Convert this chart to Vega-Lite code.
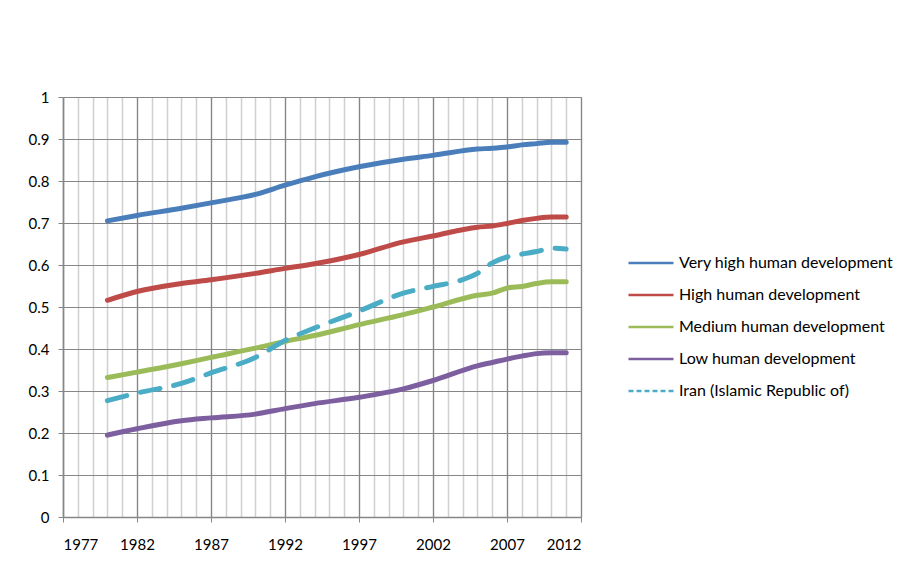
{
  "$schema": "https://vega.github.io/schema/vega-lite/v6.json",
  "width": 518,
  "height": 420,
  "autosize": {"type": "none"},
  "padding": {"left": 63, "top": 97, "right": 320, "bottom": 50},
  "background": "white",
  "config": {
    "view": {"stroke": null},
    "font": "Lato",
    "axis": {"labelFont": "Lato", "labelFontSize": 15, "labelColor": "#000000", "domainColor": "#868686", "tickColor": "#868686", "gridColor": "#868686", "title": null},
    "legend": {"labelFont": "Lato", "labelFontSize": 16, "labelColor": "#000000"}
  },
  "resolve": {"axis": {"x": "independent", "y": "shared"}},
  "data": {"values": [
    {"year": 1980, "series": "Very high human development", "value": 0.705},
    {"year": 1982, "series": "Very high human development", "value": 0.718},
    {"year": 1985, "series": "Very high human development", "value": 0.735},
    {"year": 1987, "series": "Very high human development", "value": 0.748},
    {"year": 1990, "series": "Very high human development", "value": 0.768},
    {"year": 1992, "series": "Very high human development", "value": 0.790},
    {"year": 1994, "series": "Very high human development", "value": 0.810},
    {"year": 1997, "series": "Very high human development", "value": 0.834},
    {"year": 2000, "series": "Very high human development", "value": 0.852},
    {"year": 2002, "series": "Very high human development", "value": 0.861},
    {"year": 2005, "series": "Very high human development", "value": 0.876},
    {"year": 2006, "series": "Very high human development", "value": 0.878},
    {"year": 2007, "series": "Very high human development", "value": 0.881},
    {"year": 2008, "series": "Very high human development", "value": 0.886},
    {"year": 2009, "series": "Very high human development", "value": 0.889},
    {"year": 2010, "series": "Very high human development", "value": 0.892},
    {"year": 2011, "series": "Very high human development", "value": 0.892},
    {"year": 1980, "series": "High human development", "value": 0.516},
    {"year": 1982, "series": "High human development", "value": 0.537},
    {"year": 1985, "series": "High human development", "value": 0.556},
    {"year": 1987, "series": "High human development", "value": 0.565},
    {"year": 1990, "series": "High human development", "value": 0.580},
    {"year": 1992, "series": "High human development", "value": 0.592},
    {"year": 1994, "series": "High human development", "value": 0.603},
    {"year": 1997, "series": "High human development", "value": 0.625},
    {"year": 2000, "series": "High human development", "value": 0.655},
    {"year": 2002, "series": "High human development", "value": 0.669},
    {"year": 2005, "series": "High human development", "value": 0.690},
    {"year": 2006, "series": "High human development", "value": 0.693},
    {"year": 2007, "series": "High human development", "value": 0.699},
    {"year": 2008, "series": "High human development", "value": 0.706},
    {"year": 2009, "series": "High human development", "value": 0.711},
    {"year": 2010, "series": "High human development", "value": 0.714},
    {"year": 2011, "series": "High human development", "value": 0.714},
    {"year": 1980, "series": "Medium human development", "value": 0.332},
    {"year": 1982, "series": "Medium human development", "value": 0.345},
    {"year": 1985, "series": "Medium human development", "value": 0.365},
    {"year": 1987, "series": "Medium human development", "value": 0.380},
    {"year": 1990, "series": "Medium human development", "value": 0.402},
    {"year": 1992, "series": "Medium human development", "value": 0.418},
    {"year": 1994, "series": "Medium human development", "value": 0.432},
    {"year": 1997, "series": "Medium human development", "value": 0.458},
    {"year": 2000, "series": "Medium human development", "value": 0.482},
    {"year": 2002, "series": "Medium human development", "value": 0.500},
    {"year": 2005, "series": "Medium human development", "value": 0.528},
    {"year": 2006, "series": "Medium human development", "value": 0.533},
    {"year": 2007, "series": "Medium human development", "value": 0.545},
    {"year": 2008, "series": "Medium human development", "value": 0.549},
    {"year": 2009, "series": "Medium human development", "value": 0.556},
    {"year": 2010, "series": "Medium human development", "value": 0.560},
    {"year": 2011, "series": "Medium human development", "value": 0.560},
    {"year": 1980, "series": "Low human development", "value": 0.195},
    {"year": 1982, "series": "Low human development", "value": 0.210},
    {"year": 1985, "series": "Low human development", "value": 0.229},
    {"year": 1987, "series": "Low human development", "value": 0.236},
    {"year": 1990, "series": "Low human development", "value": 0.245},
    {"year": 1992, "series": "Low human development", "value": 0.258},
    {"year": 1994, "series": "Low human development", "value": 0.270},
    {"year": 1997, "series": "Low human development", "value": 0.285},
    {"year": 2000, "series": "Low human development", "value": 0.305},
    {"year": 2002, "series": "Low human development", "value": 0.325},
    {"year": 2005, "series": "Low human development", "value": 0.360},
    {"year": 2006, "series": "Low human development", "value": 0.368},
    {"year": 2007, "series": "Low human development", "value": 0.376},
    {"year": 2008, "series": "Low human development", "value": 0.383},
    {"year": 2009, "series": "Low human development", "value": 0.389},
    {"year": 2010, "series": "Low human development", "value": 0.391},
    {"year": 2011, "series": "Low human development", "value": 0.391},
    {"year": 1980, "series": "Iran (Islamic Republic of)", "value": 0.277},
    {"year": 1982, "series": "Iran (Islamic Republic of)", "value": 0.295},
    {"year": 1985, "series": "Iran (Islamic Republic of)", "value": 0.318},
    {"year": 1987, "series": "Iran (Islamic Republic of)", "value": 0.343},
    {"year": 1990, "series": "Iran (Islamic Republic of)", "value": 0.380},
    {"year": 1992, "series": "Iran (Islamic Republic of)", "value": 0.420},
    {"year": 1994, "series": "Iran (Islamic Republic of)", "value": 0.450},
    {"year": 1997, "series": "Iran (Islamic Republic of)", "value": 0.490},
    {"year": 2000, "series": "Iran (Islamic Republic of)", "value": 0.533},
    {"year": 2002, "series": "Iran (Islamic Republic of)", "value": 0.549},
    {"year": 2004, "series": "Iran (Islamic Republic of)", "value": 0.565},
    {"year": 2005, "series": "Iran (Islamic Republic of)", "value": 0.580},
    {"year": 2006, "series": "Iran (Islamic Republic of)", "value": 0.605},
    {"year": 2007, "series": "Iran (Islamic Republic of)", "value": 0.619},
    {"year": 2008, "series": "Iran (Islamic Republic of)", "value": 0.626},
    {"year": 2009, "series": "Iran (Islamic Republic of)", "value": 0.632},
    {"year": 2010, "series": "Iran (Islamic Republic of)", "value": 0.640},
    {"year": 2011, "series": "Iran (Islamic Republic of)", "value": 0.638}
  ]},
  "layer": [
    {
      "mark": {"type": "line", "strokeOpacity": 0},
      "encoding": {
        "x": {"field": "year", "type": "quantitative", "scale": {"domain": [1977, 2012], "nice": false, "zero": false},
          "axis": {"orient": "bottom", "values": [1977,1978,1979,1980,1981,1982,1983,1984,1985,1986,1987,1988,1989,1990,1991,1992,1993,1994,1995,1996,1997,1998,1999,2000,2001,2002,2003,2004,2005,2006,2007,2008,2009,2010,2011,2012], "grid": true, "gridColor": "#d0d0d0", "gridWidth": 1.5, "labels": false, "ticks": false, "domain": false}},
        "y": {"field": "value", "type": "quantitative", "scale": {"domain": [0, 1], "nice": false},
          "axis": {"values": [0,0.1,0.2,0.3,0.4,0.5,0.6,0.7,0.8,0.9,1], "format": ".1~f", "grid": true, "gridColor": "#868686", "gridWidth": 1.2, "tickSize": 5, "labelPadding": 9, "domainWidth": 1.5}},
        "detail": {"field": "series"}
      }
    },
    {
      "transform": [{"filter": "datum.series !== 'Iran (Islamic Republic of)'"}],
      "mark": {"type": "line", "strokeWidth": 5, "strokeCap": "round", "interpolate": "monotone"},
      "encoding": {
        "x": {"field": "year", "type": "quantitative",
          "axis": {"orient": "bottom", "values": [1977,1982,1987,1992,1997,2002,2007,2012], "format": "d", "grid": true, "gridColor": "#868686", "gridWidth": 1.2, "tickSize": 5, "labelPadding": 15, "domainWidth": 1.5}},
        "y": {"field": "value", "type": "quantitative"},
        "color": {"field": "series", "type": "nominal",
          "scale": {"domain": ["Very high human development", "High human development", "Medium human development", "Low human development", "Iran (Islamic Republic of)"],
                    "range": ["#4A7EBB", "#BE4B48", "#9BBB59", "#7D5FA0", "#4BACC6"]},
          "legend": {"title": null, "orient": "none", "legendX": 564, "legendY": 142, "symbolType": "stroke", "symbolSize": 2025, "symbolStrokeWidth": 2.5, "rowPadding": -1.5, "labelOffset": 4, "labelLimit": 320, "padding": 0,
            "encode": {"symbols": {"update": {"strokeDash": {"signal": "datum.value === 'Iran (Islamic Republic of)' ? [5, 3] : [1, 0]"}}}}}}
      }
    },
    {
      "transform": [{"filter": "datum.series === 'Iran (Islamic Republic of)'"}],
      "mark": {"type": "line", "strokeWidth": 5, "strokeCap": "round", "interpolate": "monotone", "strokeDash": [20, 14]},
      "encoding": {
        "x": {"field": "year", "type": "quantitative", "axis": null},
        "y": {"field": "value", "type": "quantitative"},
        "color": {"field": "series", "type": "nominal"}
      }
    }
  ]
}
